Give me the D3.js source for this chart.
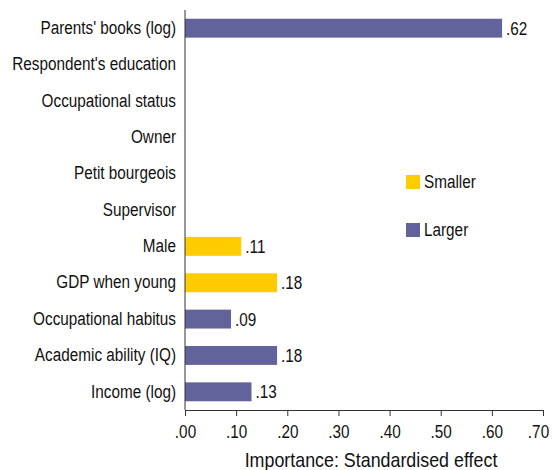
<!DOCTYPE html>
<html><head><meta charset="utf-8">
<script src="https://cdn.jsdelivr.net/npm/d3@7"></script>
<style>body{margin:0;background:#fff}text{font-family:"Liberation Sans",Arial,sans-serif;fill:#111}</style>
</head><body><svg id="c" width="552" height="470"></svg>
<script>
const categories = ["Parents' books (log)","Respondent's education","Occupational status","Owner","Petit bourgeois","Supervisor","Male","GDP when young","Occupational habitus","Academic ability (IQ)","Income (log)"];
const values = [0.62,null,null,null,null,null,0.11,0.18,0.09,0.18,0.13];
const groups = ["Larger",null,null,null,null,null,"Smaller","Smaller","Larger","Larger","Larger"];
const labels = [".62","","","","","",".11",".18",".09",".18",".13"];
const ticks = [0,0.1,0.2,0.3,0.4,0.5,0.6,0.7];
const tickLabels = [".00",".10",".20",".30",".40",".50",".60",".70"];
const legendItems = ["Smaller","Larger"];
const colors = {Smaller:"#ffcc00", Larger:"#63639b"};
const FF = '"Liberation Sans",Arial,sans-serif';
const SQ = 0.85;

const svg = d3.select("#c");
const L=185, R=543, T=10, B=410;
const x = d3.scaleLinear().domain([0,0.7]).range([L,R]);
const y = d3.scaleBand().domain(categories).range([T,B]).paddingInner(0.48).paddingOuter(0.24);
const data = categories.map((c,i)=>({c,v:values[i],g:groups[i],l:labels[i]}));

svg.selectAll("rect.bar").data(data.filter(d=>d.v!=null)).enter().append("rect")
  .attr("x",x(0)).attr("y",d=>y(d.c)).attr("width",d=>x(d.v)-x(0)).attr("height",y.bandwidth())
  .attr("fill",d=>colors[d.g]);
svg.selectAll("text.val").data(data.filter(d=>d.v!=null)).enter().append("text").attr("class","sq")
  .attr("x",d=>x(d.v)+4).attr("y",d=>y(d.c)+y.bandwidth()/2).attr("dy","0.36em")
  .attr("font-size",18).text(d=>d.l);

// y axis
const ya = svg.append("g").attr("transform",`translate(${L},0)`).call(d3.axisLeft(y).tickSize(0).tickPadding(9));
ya.select(".domain").attr("stroke","#333").attr("d",`M0,${T}V${B}`);
ya.selectAll("text").attr("class","sq").attr("font-size",18).attr("font-family",FF).attr("fill","#111");

// x axis
const xa = svg.append("g").attr("transform",`translate(0,${B})`)
  .call(d3.axisBottom(x).tickValues(ticks).tickFormat((d,i)=>tickLabels[i]).tickSize(6).tickSizeOuter(0).tickPadding(9));
xa.select(".domain").attr("stroke","#333");
xa.selectAll(".tick line").attr("stroke","#333");
xa.selectAll("text").attr("class","sq").attr("font-size",18).attr("font-family",FF).attr("fill","#111");
xa.selectAll(".tick").filter((d,i)=>i===ticks.length-1).select("text").attr("dx",-5);

svg.append("text").attr("class","sq").attr("x",371).attr("y",467).attr("text-anchor","middle").attr("font-size",21)
  .text("Importance: Standardised effect");

// legend
const lg = svg.selectAll("g.lg").data(legendItems).enter().append("g")
  .attr("transform",(d,i)=>`translate(406,${175+i*48})`);
lg.append("rect").attr("width",14).attr("height",14).attr("fill",d=>colors[d]);
lg.append("text").attr("class","sq").attr("x",18).attr("y",7).attr("dy","0.36em").attr("font-size",18).text(d=>d);

// condense glyphs to mimic the narrow typeface
svg.selectAll("text.sq").each(function(){
  const w = this.getComputedTextLength();
  d3.select(this).attr("textLength", w*SQ).attr("lengthAdjust","spacingAndGlyphs");
});
</script></body></html>
